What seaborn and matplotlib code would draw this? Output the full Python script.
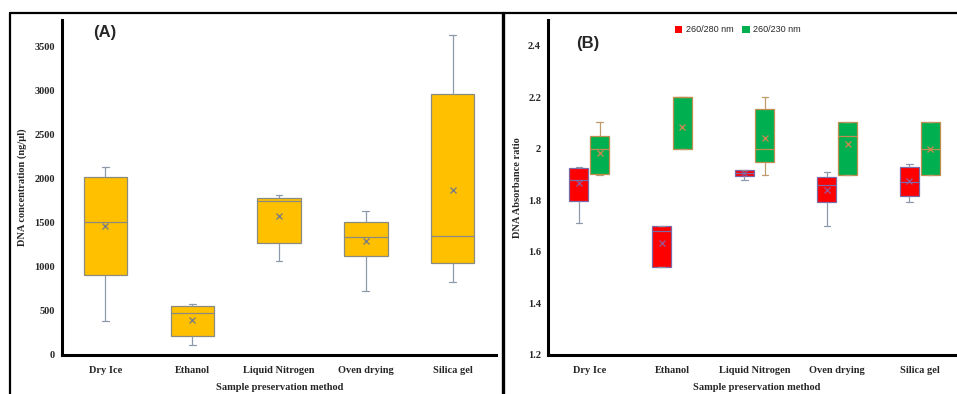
import numpy as np
import pandas as pd
import seaborn as sns
import matplotlib.pyplot as plt
from matplotlib.lines import Line2D
from matplotlib.patches import Patch
from matplotlib.ticker import FuncFormatter

# ---- data (five-number summaries + means) ----
methods = ['Dry Ice', 'Ethanol', 'Liquid Nitrogen', 'Oven drying', 'Silica gel']

# (A) DNA concentration (ng/ul)
conc_low = [385, 117, 1071, 727, 833]
conc_q1 = [905, 215, 1270, 1120, 1049]
conc_med = [1505, 472, 1745, 1343, 1354]
conc_q3 = [2025, 554, 1787, 1505, 2964]
conc_high = [2130, 573, 1810, 1637, 3627]
conc_mean = [1467, 396, 1576, 1298, 1870]

# (B) absorbance ratios
ratios = ['260/280 nm', '260/230 nm']
r280_low = [1.712, 1.541, 1.881, 1.699, 1.792]
r280_q1 = [1.796, 1.541, 1.893, 1.792, 1.819]
r280_med = [1.881, 1.680, 1.906, 1.859, 1.871]
r280_q3 = [1.925, 1.700, 1.918, 1.889, 1.929]
r280_high = [1.929, 1.700, 1.920, 1.910, 1.943]
r280_mean = [1.866, 1.634, 1.906, 1.839, 1.876]

r230_low = [1.900, 2.000, 1.900, 1.900, 1.900]
r230_q1 = [1.901, 2.000, 1.949, 1.900, 1.900]
r230_med = [2.000, 2.200, 2.000, 2.051, 2.000]
r230_q3 = [2.052, 2.200, 2.153, 2.104, 2.104]
r230_high = [2.104, 2.200, 2.200, 2.104, 2.104]
r230_mean = [1.984, 2.084, 2.043, 2.020, 2.000]


def summary_frame(low, q1, med, q3, high, label=None):
    # five points per group -> quartiles land exactly on the read values
    rows = []
    for i, m in enumerate(methods):
        for v in (low[i], q1[i], med[i], q3[i], high[i]):
            rows.append({'method': m, 'value': v, 'ratio': label})
    return pd.DataFrame(rows)


conc_df = summary_frame(conc_low, conc_q1, conc_med, conc_q3, conc_high)
conc_mean_df = pd.DataFrame({'method': methods, 'value': conc_mean})

r280_df = summary_frame(r280_low, r280_q1, r280_med, r280_q3, r280_high, ratios[0])
r230_df = summary_frame(r230_low, r230_q1, r230_med, r230_q3, r230_high, ratios[1])
ratio_mean_df = pd.concat([
    pd.DataFrame({'method': methods, 'value': r280_mean, 'ratio': ratios[0]}),
    pd.DataFrame({'method': methods, 'value': r230_mean, 'ratio': ratios[1]}),
])

sns.set_theme(style='white')
plt.rcParams['font.family'] = ['Liberation Serif', 'DejaVu Serif']

fig = plt.figure(figsize=(9.57, 3.94), dpi=100)
axA = fig.add_axes([0.0648, 0.099, 0.4535, 0.850])
axB = fig.add_axes([0.5726, 0.099, 0.4274, 0.850])

label_font = dict(family='Liberation Serif', weight='bold', size=7.5)

# ---- panel A ----
sns.boxplot(data=conc_df, x='method', y='value', order=methods, ax=axA,
            color='#FFC000', linecolor='#8a8a80', linewidth=0.9, width=0.5,
            whis=np.inf, capwidths=0.08, saturation=1,
            whiskerprops=dict(color='#8c9aab'), capprops=dict(color='#8c9aab'))
sns.pointplot(data=conc_mean_df, x='method', y='value', order=methods, ax=axA,
              color='#7f7f7f', markers='x', linestyle='none', errorbar=None,
              markersize=5, markeredgewidth=1)
axA.set_ylim(0, 3800)
axA.set_xlim(-0.5, 4.5)
axA.set_yticks(np.arange(0, 3501, 500))

# ---- panel B ----
box_fill = {ratios[0]: '#FF0000', ratios[1]: '#00B050'}
box_edge = {ratios[0]: '#7a6aa8', ratios[1]: '#c08c50'}
whisk = {ratios[0]: '#8c9aab', ratios[1]: '#c09a6a'}
for r, d in ((ratios[0], r280_df), (ratios[1], r230_df)):
    sns.boxplot(data=d, x='method', y='value', hue='ratio', order=methods,
                hue_order=ratios, palette=box_fill, ax=axB, linecolor=box_edge[r],
                linewidth=0.9, width=0.5, gap=0.08, dodge=True, whis=np.inf,
                capwidths=0.08, saturation=1, legend=False,
                whiskerprops=dict(color=whisk[r]), capprops=dict(color=whisk[r]))
sns.pointplot(data=ratio_mean_df, x='method', y='value', hue='ratio', order=methods,
              hue_order=ratios, palette={ratios[0]: '#a0508a', ratios[1]: '#c08a50'},
              ax=axB, markers='x', linestyle='none', errorbar=None, dodge=0.25,
              markersize=5, markeredgewidth=1, legend=False)
axB.set_ylim(1.2, 2.5)
axB.set_xlim(-0.5, 4.45)
axB.set_yticks(np.arange(1.2, 2.41, 0.2))
axB.yaxis.set_major_formatter(FuncFormatter(lambda v, p: f'{v:g}'))

handles = [Patch(facecolor=box_fill[r], edgecolor='none', label=r) for r in ratios]
fig.legend(handles=handles, loc='center', bbox_to_anchor=(0.771, 0.924), ncol=2,
           frameon=False, handlelength=0.8, handleheight=0.8, handletextpad=0.4,
           columnspacing=1.0, prop=dict(family='Liberation Sans', size=6.5))

# ---- shared axis styling ----
for ax, ylab, xlab_x, ylab_x in ((axA, 'DNA concentration (ng/μl)', 0.502, -0.092),
                                  (axB, 'DNA Absorbance ratio', 0.51, -0.0735)):
    for side in ('top', 'right'):
        ax.spines[side].set_visible(False)
    for side in ('left', 'bottom'):
        ax.spines[side].set_color('black')
        ax.spines[side].set_linewidth(2.2)
    ax.tick_params(axis='both', length=0)
    ax.tick_params(axis='x', pad=8)
    ax.tick_params(axis='y', pad=5)
    for lab in ax.get_xticklabels() + ax.get_yticklabels():
        lab.set_fontfamily('Liberation Serif')
        lab.set_fontweight('bold')
        lab.set_fontsize(7.5)
    ax.set_xlabel('Sample preservation method', fontdict=label_font, va='center')
    ax.set_ylabel(ylab, fontdict=label_font, va='center')
    ax.xaxis.set_label_coords(xlab_x, -0.0985)
    ax.yaxis.set_label_coords(ylab_x, 0.5)
    ax.set_facecolor('white')

axA.text(0.071, 0.964, '(A)', transform=axA.transAxes, ha='left', va='center',
         fontsize=12, fontweight='bold', family='Liberation Sans')
axB.text(0.0686, 0.931, '(B)', transform=axB.transAxes, ha='left', va='center',
         fontsize=12, fontweight='bold', family='Liberation Sans')

# outer frame lines of the composite figure
fig.add_artist(Line2D([0.0104, 1.0], [0.967, 0.967], color='black', lw=1.6,
                      transform=fig.transFigure))
fig.add_artist(Line2D([0.0104, 0.0104], [0.0, 0.967], color='black', lw=1.6,
                      transform=fig.transFigure))
fig.add_artist(Line2D([0.5256, 0.5256], [0.0, 0.967], color='black', lw=2.4,
                      transform=fig.transFigure))

fig.savefig('out.png', dpi=100, facecolor='white')
